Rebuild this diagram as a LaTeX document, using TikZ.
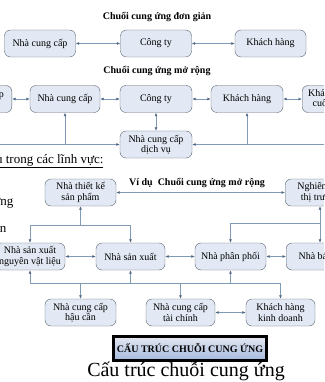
\documentclass[tikz,border=0pt]{standalone}
\usepackage{fontspec}
\setmainfont{Liberation Serif}
\usetikzlibrary{arrows.meta}
\definecolor{boxfill}{RGB}{226,233,244}
\definecolor{boxline}{RGB}{92,100,112}
\definecolor{linkcol}{RGB}{128,155,182}
\definecolor{tipcol}{RGB}{80,105,135}

\begin{document}
\begin{tikzpicture}
      [x=1pt,y=-1pt,
      box/.style={draw=boxline,fill=boxfill,rounded corners=6pt,align=center,
        inner sep=1pt,minimum width=71pt,minimum height=27pt,
        font=\fontsize{10}{10.5}\selectfont},
      link/.style={draw=linkcol,line width=0.7pt,-{Latex[length=3.5pt,width=3pt,color=tipcol]}},
      both/.style={link,{Latex[length=3.5pt,width=3pt,color=tipcol]}-{Latex[length=3.5pt,width=3pt,color=tipcol]}},
      title/.style={font=\fontsize{10}{12}\selectfont\bfseries}]
      \path[use as bounding box,clip] (0,0) rectangle (324,382);
      \fill[white] (0,0) rectangle (324,382);

      % simple chain
      \node[title] (t1) at (157,17) {Chuổi cung ứng đơn giản};
      \node[box] (s1) at (40,43.5) {Nhà cung cấp};
      \node[box] (s2) at (156,43.5) {Công ty};
      \node[box] (s3) at (270.5,43.5) {Khách hàng};
      \draw[both] (s1) -- (s2);
      \draw[both] (s2) -- (s3);

      % extended chain
      \node[title] (t2) at (157,71) {Chuổi cung ứng mở rộng};
      \node[box,anchor=east] (e0) at (12,99) {Nhà cung cấp\\đầu tiên};
      \node[box,minimum width=70pt] (e1) at (65,99) {Nhà cung cấp};
      \node[box,minimum width=72pt] (e2) at (156,99) {Công ty};
      \node[box,minimum width=72pt] (e3) at (247,99) {Khách hàng};
      \node[box,anchor=west,minimum width=60pt] (e4) at (302,99) {Khách hàng\\cuối cùng};
      \node[box,minimum width=72pt] (dv) at (156,144.5) {Nhà cung cấp\\dịch vụ};
      \coordinate (lft) at (-10,144.5);
      \coordinate (rgt) at (334,144.5);
      \draw[both] (e0) -- (e1);
      \draw[both] (e1) -- (e2);
      \draw[both] (e2) -- (e3);
      \draw[both] (e3) -- (e4);
      \draw[both] (e2) -- (dv);
      \draw[link] (lft) -- (dv);
      \draw[link] (rgt) -- (dv);
      \draw[link] (e1 |- lft) -- (e1);
      \draw[link] (e3 |- rgt) -- (e3);

      \node[anchor=base east,font=\fontsize{13}{15}\selectfont] (lv) at (107,163)
        {\underline{ụ trong các lĩnh vực:}};
      \node[anchor=base east,font=\fontsize{13}{15}\selectfont] (w1) at (17,205) {ơng};
      \node[anchor=base east,font=\fontsize{13}{15}\selectfont] (w2) at (10,232) {in};

      % example
      \node[title] (t3) at (197,183) {Ví dụ\ \ Chuổi cung ứng mở rộng};
      \node[box] (tk) at (80.5,192.5) {Nhà thiết kế\\sản phẩm};
      \node[box,anchor=west] (nc) at (285,192.5) {Nghiên cứu\\thị trường};
      \node[box,minimum width=70pt] (p1) at (30,256.5) {Nhà sản xuất\\nguyên vật liệu};
      \node[box,minimum width=69pt] (p2) at (130.5,256.5) {Nhà sản xuất};
      \node[box] (p3) at (230.5,256.5) {Nhà phân phối};
      \node[box,anchor=west,minimum width=68pt] (p4) at (286,256.5) {Nhà bán lẻ};
      \node[box] (h1) at (80.5,312.5) {Nhà cung cấp\\hậu cần};
      \node[box,minimum width=69pt] (h2) at (180.5,312.5) {Nhà cung cấp\\tài chính};
      \node[box,minimum width=69pt] (h3) at (280.5,312.5) {Khách hàng\\kinh doanh};
      \coordinate (up) at (80.5,225);
      \coordinate (rt) at (320,223.5);
      \coordinate (dn) at (80.5,283);
      \draw[both] (tk) -- (nc);
      \draw[both] (p1) -- (p2);
      \draw[both] (p2) -- (p3);
      \draw[both] (p3) -- (p4);
      \draw[both] (h2) -- (h3);
      \draw[link] (up) -- (tk);
      \draw[link] (up) -| (p1);
      \draw[link] (up) -| (p2);
      \draw[both] (nc.south -| rt) -- (p4.north -| rt);
      \draw[link] (rt) -| (p3);
      \draw[draw=linkcol,line width=0.7pt] (dn -| p1) -- (dn -| h3);
      \draw[link] (dn -| p1) -- (p1);
      \draw[link] (dn -| p2) -- (p2);
      \draw[link] (dn -| p3) -- (p3);
      \draw[link] (dn) -- (h1);
      \draw[link] (dn -| h2) -- (h2);
      \draw[link] (dn -| h3) -- (h3);

      \node[draw=black,line width=3pt,top color={rgb,255:red,228;green,232;blue,240},
        bottom color={rgb,255:red,165;green,185;blue,222},minimum width=149pt,
        minimum height=24pt,font=\fontsize{10}{12}\selectfont\bfseries] (ct) at (190,348.5)
        {CẤU TRÚC CHUỖI CUNG ỨNG};
      \node[font=\fontsize{20}{22}\selectfont] (cap) at (186,371) {Cấu trúc chuỗi cung ứng};
\end{tikzpicture}
\end{document}
